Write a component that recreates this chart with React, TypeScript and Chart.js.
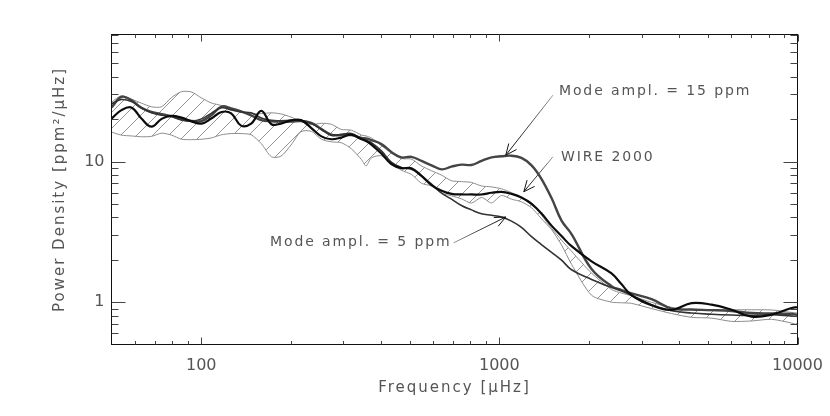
import { useEffect, useRef } from 'react'
import Chart from 'chart.js/auto'

const frequency = [
  50, 54, 58.3, 63, 68.1, 73.6, 79.5, 85.9, 92.8, 100.2, 108, 117, 126, 136, 147, 159, 172, 185, 200, 216, 234, 253, 273, 295, 319,
  345, 357, 372, 402, 434, 469, 507, 548, 592, 640, 691, 746, 806, 871, 941, 1016, 1098, 1186, 1282, 1380, 1496, 1616, 1746,
  2038, 2378, 2570, 2776, 3240, 3781, 4413, 5150, 6011, 7015, 8187, 9555, 10000,
]

const bandUpper = [
  26.4, 29.4, 27.8, 26.0, 24.5, 24.5, 28.5, 31.4, 31.2, 28.3, 26.1, 25.0, 23.6, 22.4, 21.9, 21.9, 22.2, 21.8, 20.7, 19.3, 18.3, 18.7, 18.4, 16.9, 16.7,
  15.4, 15.2, 14.7, 13, 11.5, 10.5, 10.4, 9.3, 8.6, 8.0, 7.3, 7.2, 7.1, 6.7, 6.6, 6.4, 6.0, 5.5, 5.1, 4.2, 3.35, 2.76, 2.3,
  1.61, 1.23, 1.16, 1.11, 0.997, 0.918, 0.883, 0.87, 0.883, 0.883, 0.88, 0.845, 0.837,
]

const bandLower = [
  16.2, 15.4, 15.2, 15, 15.1, 15.9, 15.4, 14.4, 14.3, 14.4, 14.7, 15.5, 15.8, 15.8, 15.5, 13.4, 10.8, 10.9, 13.1, 16.3, 16.4, 14.4, 13.8, 13.6, 12.3,
  10.3, 9.3, 10.6, 11.0, 9.67, 8.67, 8.1, 7.0, 6.7, 5.95, 5.7, 5.43, 5.06, 5.55, 5.08, 5.73, 5.4, 5.17, 4.69, 3.95, 3.28, 2.55, 1.86,
  1.12, 1.0, 0.99, 0.98, 0.9, 0.83, 0.78, 0.77, 0.73, 0.735, 0.755, 0.71, 0.69,
]

const wire2000 = [
  20.2, 23.2, 24.2, 20.2, 17.7, 20.1, 21.1, 20.5, 19.3, 18.6, 20.2, 22.5, 22, 18, 18.6, 22.9, 18.4, 18.6, 19.6, 19.7, 17.3, 15.1, 14.4, 14.8, 15.5,
  14.4, 14, 13.2, 11.4, 9.6, 8.97, 8.97, 7.9, 6.8, 6.2, 5.89, 5.83, 5.83, 5.83, 6.0, 6.09, 5.89, 5.55, 5.0, 4.3, 3.5, 2.95, 2.5,
  1.95, 1.6, 1.34, 1.12, 0.95, 0.88, 0.985, 0.96, 0.883, 0.79, 0.815, 0.908, 0.92,
]

const mode15 = [
  24.2, 28.8, 27.3, 24.1, 22.5, 21.7, 21, 19.9, 19.4, 19.4, 21.3, 24.6, 23.9, 22.7, 21.3, 19.7, 19.3, 19.2, 19.2, 19.4, 18.8, 17, 15.5, 15.4, 15.4,
  14.7, 14.6, 14.2, 13.3, 11.7, 10.7, 10.8, 10.1, 9.4, 8.8, 9.2, 9.5, 9.45, 10.1, 10.7, 10.9, 11, 10.6, 9.4, 7.6, 5.5, 3.8, 3.05,
  1.72, 1.3, 1.22, 1.155, 1.05, 0.9, 0.886, 0.878, 0.865, 0.837, 0.832, 0.825, 0.815,
]

const mode5 = [
  25.7, 27.6, 26.7, 24, 22.2, 21.3, 20.9, 19.8, 19.4, 20.1, 22, 24.1, 23.3, 22.5, 22.2, 20.4, 19.6, 19.5, 19.6, 19.6, 18.6, 16.9, 15.4, 15.6, 15.8,
  14.5, 14.2, 13.6, 11.9, 9.9, 9.05, 8.8, 7.9, 6.9, 5.95, 5.4, 4.87, 4.53, 4.25, 4.15, 4.03, 3.77, 3.4, 2.92, 2.58, 2.26, 1.99, 1.7,
  1.45, 1.27, 1.2, 1.12, 0.96, 0.87, 0.837, 0.82, 0.81, 0.805, 0.815, 0.797, 0.793,
]

const xLabelTicks = [100, 1000, 10000]
const yLabelTicks = [1, 10]
const xMinorTicks = [60, 70, 80, 90, 200, 300, 400, 500, 600, 700, 800, 900, 2000, 3000, 4000, 5000, 6000, 7000, 8000, 9000]
const yMinorTicks = [0.6, 0.7, 0.8, 0.9, 2, 3, 4, 5, 6, 7, 8, 9, 20, 30, 40, 50, 60, 70, 80]

// text anchors and arrows are in data units: [frequency, power]
const noteLabels = ['Mode ampl. = 15 ppm', 'WIRE 2000', 'Mode ampl. = 5 ppm']
const noteAnchors = [[1584, 31.6], [1609, 10.7], [170, 2.68]]
const arrowTails = [[1512, 29.6], [1512, 10.8], [702, 2.64]]
const arrowHeads = [[1051, 11.1], [1208, 6.1], [1051, 4.03]]

const FONT = '"DejaVu Sans"'
const TEXT = '#555555'

const toPoints = (values: number[]) => values.map((y, i) => ({ x: frequency[i], y }))

function makeHatch() {
  const c = document.createElement('canvas')
  c.width = 16
  c.height = 16
  const g = c.getContext('2d')!
  g.strokeStyle = '#8a8a8a'
  g.lineWidth = 0.9
  g.beginPath()
  g.moveTo(-2, 18)
  g.lineTo(18, -2)
  g.stroke()
  return g.createPattern(c, 'repeat')!
}

// frame, inward ticks, arrows, notes and axis titles
const decorations = {
  id: 'decorations',
  afterDatasetsDraw(chart: any) {
    const { ctx, chartArea: a, scales } = chart
    const x = scales.x
    const y = scales.y
    ctx.save()

    ctx.strokeStyle = '#111111'
    ctx.lineWidth = 1
    ctx.strokeRect(a.left, a.top, a.right - a.left, a.bottom - a.top)

    const tick = (x1: number, y1: number, x2: number, y2: number) => {
      ctx.beginPath()
      ctx.moveTo(x1, y1)
      ctx.lineTo(x2, y2)
      ctx.stroke()
    }
    ctx.strokeStyle = '#444444'
    xLabelTicks.forEach(v => {
      const p = Math.round(x.getPixelForValue(v)) + 0.5
      tick(p, a.bottom, p, a.bottom - 7)
      tick(p, a.top, p, a.top + 7)
    })
    xMinorTicks.forEach(v => {
      const p = Math.round(x.getPixelForValue(v)) + 0.5
      tick(p, a.bottom, p, a.bottom - 3.5)
      tick(p, a.top, p, a.top + 3.5)
    })
    yLabelTicks.forEach(v => {
      const p = Math.round(y.getPixelForValue(v)) + 0.5
      tick(a.left, p, a.left + 14, p)
      tick(a.right, p, a.right - 14, p)
    })
    yMinorTicks.forEach(v => {
      const p = Math.round(y.getPixelForValue(v)) + 0.5
      tick(a.left, p, a.left + 7, p)
      tick(a.right, p, a.right - 7, p)
    })

    arrowTails.forEach((tail, i) => {
      const x0 = x.getPixelForValue(tail[0])
      const y0 = y.getPixelForValue(tail[1])
      const x1 = x.getPixelForValue(arrowHeads[i][0])
      const y1 = y.getPixelForValue(arrowHeads[i][1])
      const grad = ctx.createLinearGradient(x0, y0, x1, y1)
      grad.addColorStop(0, '#999999')
      grad.addColorStop(0.5, '#444444')
      grad.addColorStop(1, '#111111')
      ctx.strokeStyle = grad
      ctx.lineWidth = 1
      tick(x0, y0, x1, y1)
      const angle = Math.atan2(y0 - y1, x0 - x1)
      ctx.strokeStyle = '#111111'
      tick(x1, y1, x1 + 12 * Math.cos(angle + 0.42), y1 + 12 * Math.sin(angle + 0.42))
      tick(x1, y1, x1 + 12 * Math.cos(angle - 0.42), y1 + 12 * Math.sin(angle - 0.42))
    })

    ctx.fillStyle = TEXT
    ctx.textBaseline = 'middle'
    ctx.textAlign = 'left'
    ctx.font = `14px ${FONT}`
    ctx.letterSpacing = '1.9px'
    noteLabels.forEach((label, i) => {
      ctx.fillText(label, x.getPixelForValue(noteAnchors[i][0]), y.getPixelForValue(noteAnchors[i][1]))
    })

    ctx.textAlign = 'center'
    ctx.font = `15px ${FONT}`
    ctx.letterSpacing = '2px'
    ctx.fillText('Frequency [µHz]', (a.left + a.right) / 2, 388)
    ctx.save()
    ctx.translate(60, (a.top + a.bottom) / 2)
    ctx.rotate(-Math.PI / 2)
    ctx.fillText('Power Density [ppm²/µHz]', 0, 0)
    ctx.restore()
    ctx.restore()
  },
}

const App = () => {
  const chartRef = useRef<HTMLCanvasElement>(null)

  useEffect(() => {
    if (!chartRef.current) return

    const chart = new Chart(chartRef.current, {
      type: 'line',
      data: {
        datasets: [
          {
            label: 'Upper envelope',
            data: toPoints(bandUpper),
            borderColor: '#8c8c8c',
            borderWidth: 1,
            backgroundColor: makeHatch(),
            fill: '+1',
            tension: 0.25,
            order: 5,
          },
          {
            label: 'Lower envelope',
            data: toPoints(bandLower),
            borderColor: '#8c8c8c',
            borderWidth: 1,
            fill: false,
            tension: 0.25,
            order: 4,
          },
          {
            label: 'Mode ampl. = 15 ppm',
            data: toPoints(mode15),
            borderColor: '#444444',
            borderWidth: 2.4,
            fill: false,
            tension: 0.4,
            order: 3,
          },
          {
            label: 'Mode ampl. = 5 ppm',
            data: toPoints(mode5),
            borderColor: '#333333',
            borderWidth: 1.6,
            fill: false,
            tension: 0.4,
            order: 2,
          },
          {
            label: 'WIRE 2000',
            data: toPoints(wire2000),
            borderColor: '#0c0c0c',
            borderWidth: 2.2,
            fill: false,
            tension: 0.4,
            order: 1,
          },
        ],
      },
      options: {
        responsive: false,
        animation: false,
        layout: { padding: { left: 0, top: 34.5, right: 32.5, bottom: 0 } },
        elements: { point: { radius: 0 } },
        plugins: {
          legend: { display: false },
          tooltip: { enabled: false },
        },
        scales: {
          x: {
            type: 'logarithmic',
            min: 50,
            max: 10000,
            grid: { display: false, drawTicks: false },
            border: { display: false },
            afterBuildTicks: (s: any) => {
              s.ticks = xLabelTicks.map(value => ({ value }))
            },
            afterFit: (s: any) => {
              s.height = 71.5
              s.paddingLeft = 0
              s.paddingRight = 0
            },
            ticks: {
              padding: 12,
              autoSkip: false,
              maxRotation: 0,
              color: TEXT,
              font: { family: FONT, size: 16 },
              callback: (v: any) => String(v),
            },
          },
          y: {
            type: 'logarithmic',
            min: 0.5,
            max: 80,
            grid: { display: false, drawTicks: false },
            border: { display: false },
            afterBuildTicks: (s: any) => {
              s.ticks = yLabelTicks.map(value => ({ value }))
            },
            afterFit: (s: any) => {
              s.width = 111.5
              s.paddingTop = 0
              s.paddingBottom = 0
            },
            ticks: {
              padding: 7,
              autoSkip: false,
              color: TEXT,
              font: { family: FONT, size: 16 },
              callback: (v: any) => String(v),
            },
          },
        },
      },
      plugins: [decorations],
    } as any)

    return () => {
      chart.destroy()
    }
  }, [])

  return (
    <div style={{ position: 'absolute', left: 0, top: 0, width: 830, height: 416, background: '#fff' }}>
      <canvas ref={chartRef} width={830} height={416}></canvas>
    </div>
  )
}

export default App
